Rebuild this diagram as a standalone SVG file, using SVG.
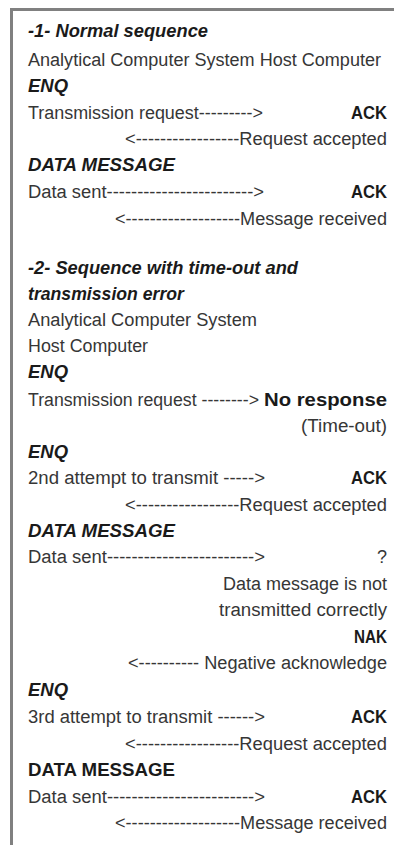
<svg xmlns="http://www.w3.org/2000/svg" width="394" height="845" viewBox="0 0 394 845">
<style>
  text { font-family: "Liberation Sans", Arial, sans-serif; font-size: 18px; fill: #363636; }
  .h { font-weight: bold; font-style: italic; fill: #1a1a1a; }
  .b { font-weight: bold; fill: #1a1a1a; }
  .r { text-anchor: end; }
  .frame { fill: none; stroke: #808080; stroke-width: 3; }
</style>
<rect width="394" height="845" fill="#ffffff"/>
<path class="frame" d="M11.5 845 V9.5 H394"/>

<g id="section1">
  <text class="h" x="28" y="37" textLength="180" lengthAdjust="spacingAndGlyphs">-1- Normal sequence</text>
  <text x="28" y="66" textLength="353" lengthAdjust="spacingAndGlyphs">Analytical Computer System Host Computer</text>
  <text class="h" x="28" y="92" textLength="40" lengthAdjust="spacingAndGlyphs">ENQ</text>
  <text x="28" y="119" textLength="235" lengthAdjust="spacingAndGlyphs">Transmission request---------&gt;</text>
  <text class="b" x="351" y="119" textLength="36" lengthAdjust="spacingAndGlyphs">ACK</text>
  <text x="125" y="145" textLength="262" lengthAdjust="spacingAndGlyphs">&lt;-----------------Request accepted</text>
  <text class="h" x="28" y="171" textLength="147" lengthAdjust="spacingAndGlyphs">DATA MESSAGE</text>
  <text x="28" y="198" textLength="236" lengthAdjust="spacingAndGlyphs">Data sent------------------------&gt;</text>
  <text class="b" x="351" y="198" textLength="36" lengthAdjust="spacingAndGlyphs">ACK</text>
  <text x="115" y="225" textLength="272" lengthAdjust="spacingAndGlyphs">&lt;-------------------Message received</text>
</g>

<g id="section2">
  <text class="h" x="28" y="274" textLength="270" lengthAdjust="spacingAndGlyphs">-2- Sequence with time-out and</text>
  <text class="h" x="28" y="300" textLength="156" lengthAdjust="spacingAndGlyphs">transmission error</text>
  <text x="28" y="326" textLength="229" lengthAdjust="spacingAndGlyphs">Analytical Computer System</text>
  <text x="28" y="352" textLength="120" lengthAdjust="spacingAndGlyphs">Host Computer</text>
  <text class="h" x="28" y="378" textLength="40" lengthAdjust="spacingAndGlyphs">ENQ</text>
  <text x="28" y="406" textLength="231" lengthAdjust="spacingAndGlyphs">Transmission request --------&gt;</text>
  <text class="b" x="264" y="406" textLength="123" lengthAdjust="spacingAndGlyphs">No response</text>
  <text x="301" y="432" textLength="86" lengthAdjust="spacingAndGlyphs">(Time-out)</text>
  <text class="h" x="28" y="458" textLength="40" lengthAdjust="spacingAndGlyphs">ENQ</text>
  <text x="28" y="484" textLength="237" lengthAdjust="spacingAndGlyphs">2nd attempt to transmit -----&gt;</text>
  <text class="b" x="351" y="484" textLength="36" lengthAdjust="spacingAndGlyphs">ACK</text>
  <text x="125" y="511" textLength="262" lengthAdjust="spacingAndGlyphs">&lt;-----------------Request accepted</text>
  <text class="h" x="28" y="537" textLength="147" lengthAdjust="spacingAndGlyphs">DATA MESSAGE</text>
  <text x="28" y="563" textLength="237" lengthAdjust="spacingAndGlyphs">Data sent------------------------&gt;</text>
  <text x="387" y="563" class="r">?</text>
  <text x="223" y="590" textLength="164" lengthAdjust="spacingAndGlyphs">Data message is not</text>
  <text x="219" y="616" textLength="168" lengthAdjust="spacingAndGlyphs">transmitted correctly</text>
  <text class="b" x="354" y="643" textLength="33" lengthAdjust="spacingAndGlyphs">NAK</text>
  <text x="128" y="669" textLength="259" lengthAdjust="spacingAndGlyphs">&lt;---------- Negative acknowledge</text>
  <text class="h" x="28" y="696" textLength="40" lengthAdjust="spacingAndGlyphs">ENQ</text>
  <text x="28" y="723" textLength="237" lengthAdjust="spacingAndGlyphs">3rd attempt to transmit ------&gt;</text>
  <text class="b" x="351" y="723" textLength="36" lengthAdjust="spacingAndGlyphs">ACK</text>
  <text x="125" y="750" textLength="262" lengthAdjust="spacingAndGlyphs">&lt;-----------------Request accepted</text>
  <text class="b" x="28" y="776" textLength="147" lengthAdjust="spacingAndGlyphs">DATA MESSAGE</text>
  <text x="28" y="803" textLength="237" lengthAdjust="spacingAndGlyphs">Data sent------------------------&gt;</text>
  <text class="b" x="351" y="803" textLength="36" lengthAdjust="spacingAndGlyphs">ACK</text>
  <text x="115" y="829" textLength="272" lengthAdjust="spacingAndGlyphs">&lt;-------------------Message received</text>
</g>
</svg>
